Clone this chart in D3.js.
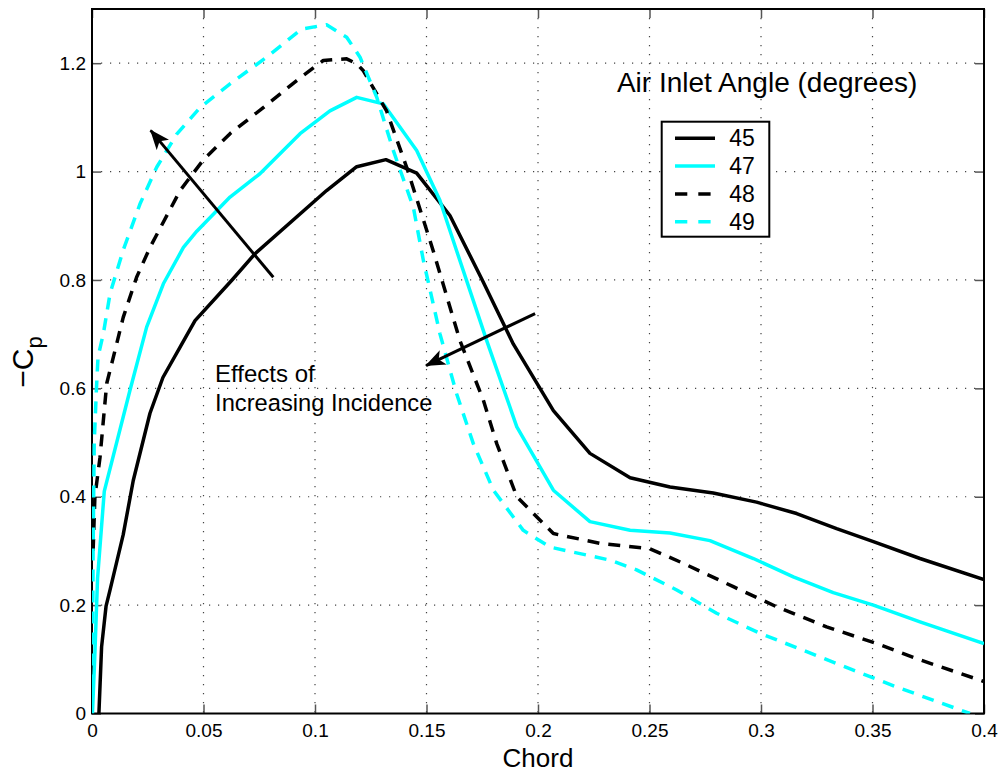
<!DOCTYPE html>
<html>
<head>
<meta charset="utf-8">
<script src="https://cdn.jsdelivr.net/npm/d3@7"></script>
<style>
  body { margin: 0; background: #fff; }
  svg { font-family: "Liberation Sans", Arial, Helvetica, sans-serif; }
</style>
</head>
<body>
<div id="chart"></div>
<script>
// series data (chord, -Cp)
var chord45 = [0.0031,0.0043,0.0063,0.0081,0.014,0.0185,0.026,0.0318,0.0395,0.0462,0.0628,0.073,0.1052,0.1187,0.1318,0.1456,0.1605,0.175,0.1889,0.2069,0.2233,0.2413,0.2592,0.2786,0.298,0.316,0.3339,0.3504,0.3713,0.4];
var cp45    = [0,0.123,0.198,0.228,0.33,0.43,0.554,0.62,0.676,0.725,0.8,0.848,0.965,1.009,1.022,0.997,0.919,0.80,0.682,0.559,0.48,0.435,0.418,0.407,0.39,0.369,0.341,0.317,0.286,0.247];

var chord47 = [0.0002,0.0012,0.0025,0.0055,0.017,0.0245,0.032,0.041,0.047,0.0619,0.0753,0.0933,0.1067,0.1187,0.1306,0.1456,0.156,0.1635,0.177,0.1905,0.2069,0.2233,0.2413,0.2592,0.2771,0.2966,0.3145,0.3324,0.3504,0.3713,0.4];
var cp47    = [0,0.1,0.25,0.41,0.596,0.713,0.793,0.86,0.89,0.953,0.996,1.07,1.112,1.137,1.125,1.039,0.947,0.854,0.688,0.529,0.412,0.354,0.338,0.333,0.319,0.286,0.252,0.223,0.2,0.169,0.129];

var chord48 = [0.0005,0.0013,0.0036,0.0066,0.0096,0.014,0.02,0.026,0.0395,0.05,0.0619,0.0768,0.0918,0.1037,0.1142,0.1187,0.1217,0.1321,0.1411,0.153,0.165,0.1755,0.1815,0.1905,0.2069,0.2278,0.2502,0.2652,0.2876,0.307,0.3294,0.3519,0.3713,0.4];
var cp48    = [0.3,0.40,0.473,0.609,0.658,0.731,0.805,0.86,0.965,1.022,1.07,1.118,1.168,1.205,1.208,1.199,1.186,1.112,1.008,0.854,0.688,0.578,0.498,0.4,0.332,0.314,0.304,0.277,0.234,0.197,0.16,0.129,0.099,0.059];

var chord49 = [0.0002,0.0005,0.001,0.002,0.0027,0.0051,0.0081,0.014,0.0215,0.029,0.038,0.0484,0.0619,0.0783,0.094,0.1052,0.1142,0.1202,0.1277,0.1351,0.1441,0.1486,0.156,0.1635,0.171,0.18,0.1934,0.2054,0.2323,0.2442,0.2622,0.2801,0.2996,0.3205,0.3414,0.3608,0.3937];
var cp49    = [0.05,0.3,0.5,0.6,0.658,0.701,0.775,0.855,0.94,1.008,1.069,1.118,1.162,1.211,1.263,1.271,1.248,1.211,1.137,1.039,0.934,0.836,0.701,0.59,0.498,0.412,0.338,0.307,0.283,0.265,0.228,0.185,0.148,0.114,0.08,0.049,0.0];

var seriesNames = ["45", "47", "48", "49"];
var xTicks = [0, 0.05, 0.1, 0.15, 0.2, 0.25, 0.3, 0.35, 0.4];
var xTickLabels = ["0", "0.05", "0.1", "0.15", "0.2", "0.25", "0.3", "0.35", "0.4"];
var yTicks = [0, 0.2, 0.4, 0.6, 0.8, 1, 1.2];
var yTickLabels = ["0", "0.2", "0.4", "0.6", "0.8", "1", "1.2"];

// arrows: [tail, head] in data units
var arrowUp   = [[0.0813, 0.805], [0.0263, 1.076]];
var arrowDown = [[0.1987, 0.738], [0.1498, 0.642]];

var margin = {top: 9, right: 17, bottom: 58.5, left: 92},
    W = 1001, H = 772,
    width = W - margin.left - margin.right,
    height = H - margin.top - margin.bottom;

var svg = d3.select("#chart").append("svg")
    .attr("width", W)
    .attr("height", H);

var g = svg.append("g")
    .attr("transform", "translate(" + margin.left + "," + margin.top + ")");

var x = d3.scaleLinear().domain([0, 0.4]).range([0, width]);
var y = d3.scaleLinear().domain([0, 1.3]).range([height, 0]);

// clip
svg.append("defs").append("clipPath").attr("id", "plotclip")
    .append("rect").attr("width", width).attr("height", height);

// grid
g.selectAll(".vgrid").data(xTicks.slice(1, -1)).enter().append("line")
    .attr("x1", function(d){ return x(d); }).attr("x2", function(d){ return x(d); })
    .attr("y1", 0).attr("y2", height)
    .style("stroke", "#444").style("stroke-width", 1.2)
    .style("stroke-dasharray", "1.2,7.8");
g.selectAll(".hgrid").data(yTicks.slice(1)).enter().append("line")
    .attr("y1", function(d){ return y(d); }).attr("y2", function(d){ return y(d); })
    .attr("x1", 0).attr("x2", width)
    .style("stroke", "#444").style("stroke-width", 1.2)
    .style("stroke-dasharray", "1.2,7.8");

// axes, ticks inward
var xAxis = g.append("g")
    .attr("transform", "translate(0," + height + ")")
    .call(d3.axisBottom(x).tickValues(xTicks).tickSize(-9).tickPadding(10)
        .tickFormat(function(d, i){ return xTickLabels[i]; }));
var yAxis = g.append("g")
    .call(d3.axisLeft(y).tickValues(yTicks).tickSize(-9).tickPadding(6)
        .tickFormat(function(d, i){ return yTickLabels[i]; }));
g.append("g")
    .call(d3.axisTop(x).tickValues(xTicks).tickSize(-9).tickFormat(""));
g.append("g")
    .attr("transform", "translate(" + width + ",0)")
    .call(d3.axisRight(y).tickValues(yTicks).tickSize(-9).tickFormat(""));

g.selectAll(".domain").remove();
g.selectAll(".tick line").style("stroke", "#555").style("stroke-width", 1.5);
g.selectAll(".tick text").style("font-size", "19px").style("fill", "#000")
    .style("font-family", "Liberation Sans, Arial, sans-serif");

// border
g.append("rect")
    .attr("width", width).attr("height", height)
    .style("fill", "none").style("stroke", "#000").style("stroke-width", 2);

// lines
var series = [
    {name: seriesNames[0], xs: chord45, ys: cp45, color: "#000000", dash: null},
    {name: seriesNames[1], xs: chord47, ys: cp47, color: "#00ffff", dash: null},
    {name: seriesNames[2], xs: chord48, ys: cp48, color: "#000000", dash: "12,9"},
    {name: seriesNames[3], xs: chord49, ys: cp49, color: "#00ffff", dash: "12,9"}
];

var line = d3.line()
    .x(function(d){ return x(d[0]); })
    .y(function(d){ return y(d[1]); });

var plot = g.append("g").attr("clip-path", "url(#plotclip)");

series.forEach(function(s){
    var pts = s.xs.map(function(v, i){ return [v, s.ys[i]]; });
    plot.append("path")
        .datum(pts)
        .attr("d", line)
        .style("fill", "none")
        .style("stroke", s.color)
        .style("stroke-width", 3.5)
        .style("stroke-linejoin", "round")
        .style("stroke-dasharray", s.dash);
});

// arrows
svg.select("defs").append("marker")
    .attr("id", "head")
    .attr("viewBox", "0 0 20 16")
    .attr("refX", 19).attr("refY", 8)
    .attr("markerWidth", 20).attr("markerHeight", 16)
    .attr("markerUnits", "userSpaceOnUse")
    .attr("orient", "auto")
    .append("path")
    .attr("d", "M0,0 L20,8 L0,16 L5,8 Z")
    .style("fill", "#000");

[arrowUp, arrowDown].forEach(function(a){
    g.append("line")
        .attr("x1", x(a[0][0])).attr("y1", y(a[0][1]))
        .attr("x2", x(a[1][0])).attr("y2", y(a[1][1]))
        .style("stroke", "#000").style("stroke-width", 3)
        .attr("marker-end", "url(#head)");
});

// annotation text
g.append("text")
    .attr("x", x(0.0552)).attr("y", y(0.612))
    .style("font-size", "24px")
    .text("Effects of");
g.append("text")
    .attr("x", x(0.0552)).attr("y", y(0.559))
    .style("font-size", "23.7px")
    .text("Increasing Incidence");

// legend
g.append("text")
    .attr("x", x(0.2354)).attr("y", y(1.146))
    .style("font-size", "28px")
    .text("Air Inlet Angle (degrees)");

var legend = g.append("g")
    .attr("transform", "translate(" + (661.7 - margin.left) + "," + (121.7 - margin.top) + ")");
legend.append("rect")
    .attr("width", 107.6).attr("height", 115)
    .style("fill", "#fff").style("stroke", "#000").style("stroke-width", 2);

var rowY = d3.scaleLinear().domain([0, 3]).range([16.6, 100]);
series.forEach(function(s, i){
    legend.append("line")
        .attr("x1", 13.3).attr("x2", 53.3)
        .attr("y1", rowY(i)).attr("y2", rowY(i))
        .style("stroke", s.color).style("stroke-width", 3.5)
        .style("stroke-dasharray", s.dash ? "12.3,11" : null);
    legend.append("text")
        .attr("x", 67.6).attr("y", rowY(i) + 8)
        .style("font-size", "23px")
        .text(s.name);
});

// axis labels
svg.append("text")
    .attr("x", margin.left + width / 2).attr("y", 767)
    .attr("text-anchor", "middle")
    .style("font-size", "26px")
    .text("Chord");

var ylab = svg.append("text")
    .attr("transform", "translate(33,362) rotate(-90)")
    .attr("text-anchor", "middle")
    .style("font-size", "30px");
ylab.append("tspan").text("\u2212C");
ylab.append("tspan").attr("dy", 9).style("font-size", "22px").text("p");
</script>
</body>
</html>
